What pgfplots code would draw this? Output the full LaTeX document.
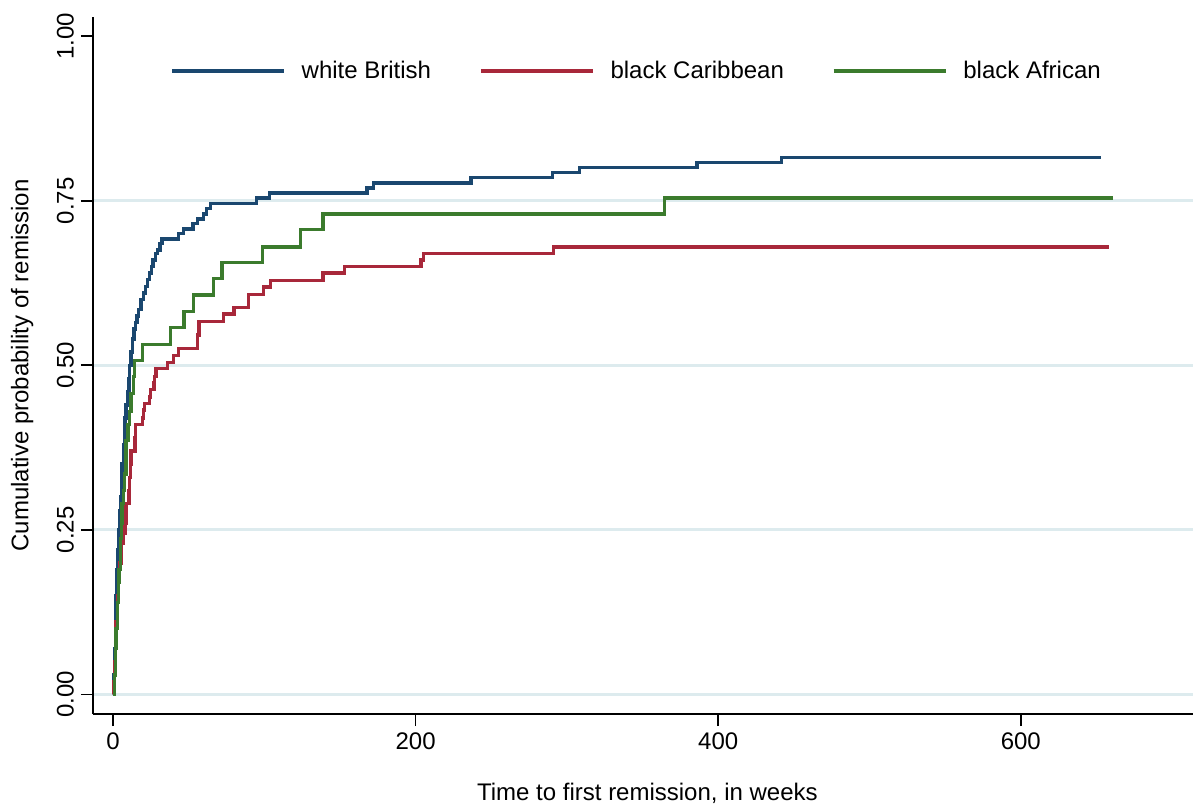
\documentclass[border=0pt]{standalone}
\usepackage{fontspec}
\setmainfont{Liberation Sans}
\usepackage{pgfplots}
\pgfplotsset{compat=1.18}

\definecolor{wbrit}{HTML}{1A476F}
\definecolor{bcarib}{HTML}{A8283A}
\definecolor{bafr}{HTML}{3B7B2D}
\definecolor{gridc}{HTML}{DDEBEE}

\newcommand{\chartfont}{\fontsize{12}{14}\selectfont}

\begin{document}
\begin{tikzpicture}
\begin{axis}[
    name=ax,
    width=550pt, height=348.5pt,
    scale only axis,
    xmin=-13.2, xmax=713.8,
    ymin=-0.0295, ymax=1.029,
    axis x line=bottom, axis y line=left,
    axis line style={line width=0.9pt, -},
    tick align=outside,
    major tick length=6pt,
    tick style={line width=0.9pt, black},
    xtick={0,200,400,600},
    ytick={0,0.25,0.5,0.75},
    yticklabels={0.00,0.25,0.50,0.75},
    extra y ticks={1},
    extra y tick labels={1.00},
    extra tick style={grid=none},
    ymajorgrids=true,
    grid style={gridc, line width=1.5pt},
    /pgf/number format/assume math mode=true,
    tick label style={font=\chartfont},
    yticklabel style={rotate=90, anchor=south},
    label style={font=\chartfont},
    xlabel={Time to first remission, in weeks},
    ylabel={Cumulative probability of remission},
    x label style={at={(axis description cs:0.504,-0.1133)}, anchor=center},
    y label style={at={(axis description cs:-0.0645,0.5)}, anchor=center},
    legend columns=3,
    legend style={at={(rel axis cs:0.0645,0.9225)}, anchor=west, draw=none, fill=none,
        font=\chartfont,
        /tikz/every odd column/.append style={column sep=6pt},
        /tikz/every even column/.append style={column sep=22pt}},
    legend image code/.code={\draw[#1] (0pt,0pt) -- (56pt,0pt);},
    every axis plot/.append style={line width=1.7pt, const plot},
]

\addplot[wbrit] coordinates {
(0,0)(0.5,0.03)(1,0.07)(1.5,0.11)(2,0.15)(2.5,0.19)(3,0.22)(4,0.25)(4.5,0.28)(5,0.30)
(5.5,0.33)(6,0.35)(7,0.38)(7.5,0.40)(8,0.42)(8.5,0.44)(9.5,0.46)(10.5,0.48)(11,0.50)
(12,0.52)(13,0.54)(14,0.555)(15,0.565)(16,0.575)(17,0.585)(18.5,0.60)(20,0.61)(21.5,0.62)
(23,0.63)(24,0.64)(25.5,0.65)(26.5,0.66)(28,0.67)(29.5,0.675)(31,0.685)(32.5,0.692)
(43.5,0.70)(46.5,0.707)(53,0.715)(56,0.722)(60,0.73)(62,0.738)(64.5,0.746)(95,0.754)
(103.5,0.762)(168,0.769)(172,0.777)(236.6,0.785)(290.6,0.793)(308.4,0.800)(386,0.808)
(442,0.8155)(653,0.8155)
};
\addlegendentry{white British}

\addplot[bcarib] coordinates {
(0,0)(0.5,0.02)(1,0.05)(1.5,0.08)(2,0.11)(3,0.15)(3.5,0.17)(4.5,0.20)(5.5,0.23)(6.5,0.245)
(8,0.26)(8.5,0.29)(10.5,0.31)(11,0.33)(11.5,0.35)(12,0.37)(14.5,0.39)(15,0.41)(19.5,0.42)
(20.3,0.432)(21,0.442)(24,0.452)(25,0.463)(27,0.473)(27.5,0.483)(28.5,0.495)(36,0.504)
(40,0.515)(43.4,0.526)(55.8,0.546)(56.8,0.567)(73,0.578)(80,0.588)(89.5,0.608)(99.5,0.619)
(104,0.629)(138.8,0.640)(153,0.650)(203.6,0.660)(205.3,0.670)(291,0.680)(658,0.680)
};
\addlegendentry{black Caribbean}

\addplot[bafr] coordinates {
(0,0)(1,0.03)(1.5,0.07)(2,0.10)(3,0.14)(3.5,0.17)(4,0.19)(5,0.237)(5.5,0.26)(6,0.29)
(7,0.31)(7.6,0.335)(8.6,0.386)(10,0.41)(10.8,0.43)(12,0.457)(13.4,0.483)(14.3,0.507)
(19.6,0.532)(38,0.557)(47,0.582)(53.3,0.607)(66.5,0.632)(72,0.656)(99,0.680)(123.8,0.706)
(138.8,0.730)(364.4,0.754)(661,0.754)
};
\addlegendentry{black African}

\end{axis}
\pgfresetboundingbox
\path[use as bounding box] ([shift={(-46.5pt,-47pt)}]ax.south west) rectangle ([shift={(2pt,8.5pt)}]ax.north east);
\end{tikzpicture}
\end{document}
